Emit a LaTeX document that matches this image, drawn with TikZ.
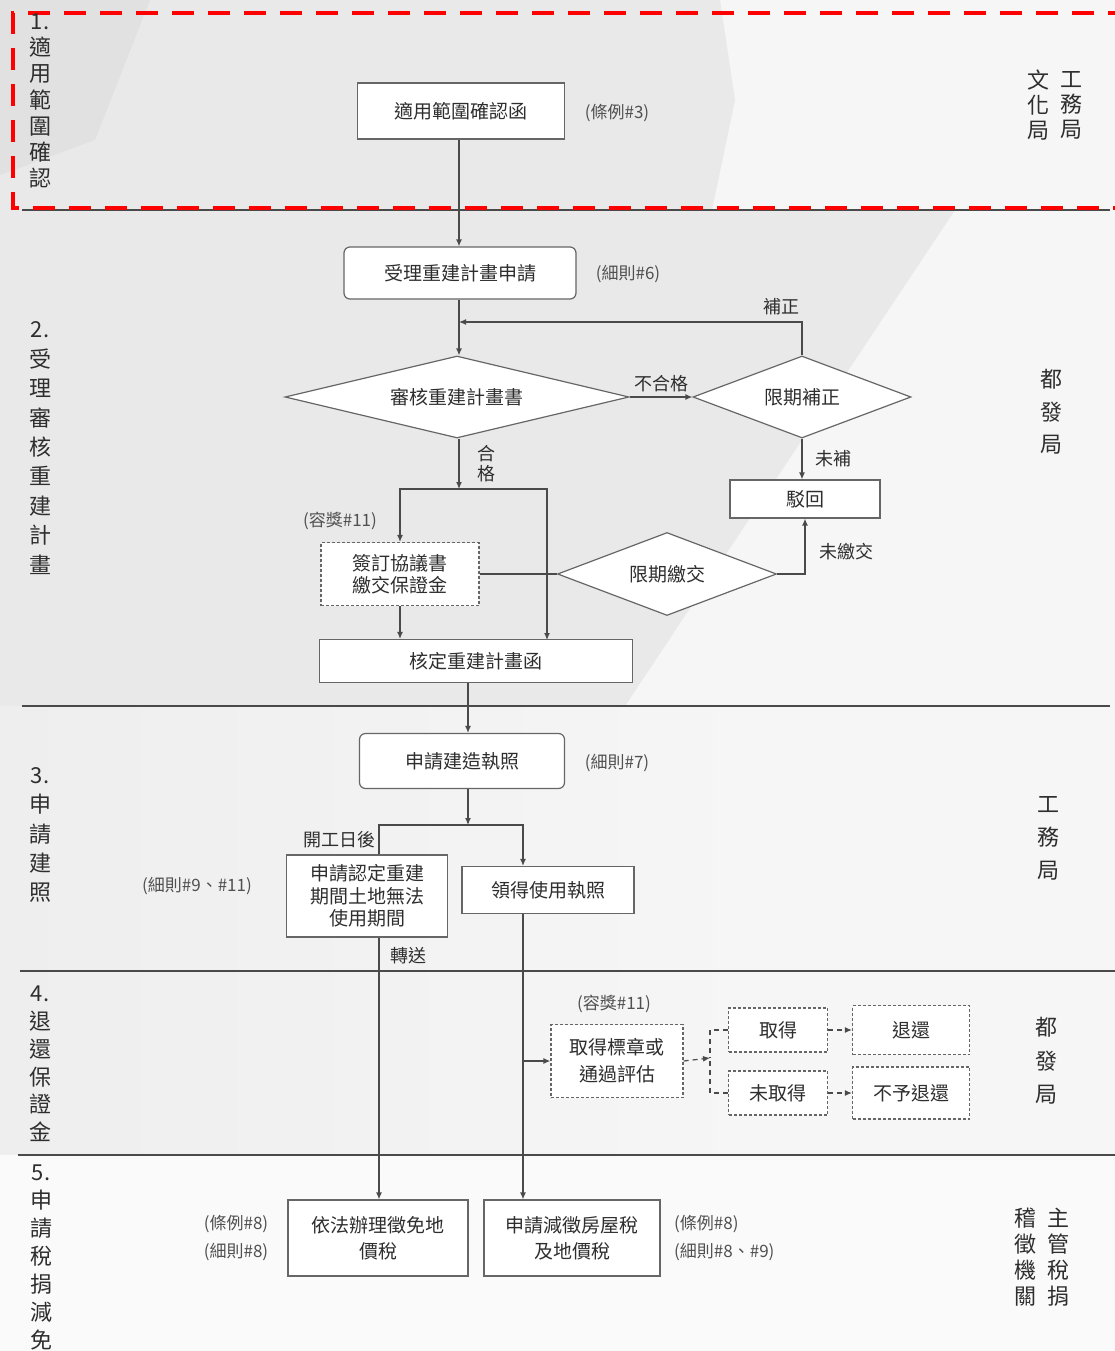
\documentclass[tikz,border=0pt]{standalone}
\usepackage{fontspec}
\setmainfont{Noto Sans CJK TC}
\usetikzlibrary{shapes.geometric,arrows.meta}
\definecolor{txt}{HTML}{2E2E2E}
\definecolor{notec}{HTML}{505050}
\definecolor{linec}{HTML}{4A4A4A}
\definecolor{boxc}{HTML}{666666}
\definecolor{sepc}{HTML}{4A4A4A}
\definecolor{bgA}{HTML}{F6F6F6}
\definecolor{bgB}{HTML}{E9E9E9}
\definecolor{bgC}{HTML}{E1E1E1}
\definecolor{bgD}{HTML}{EEEEEE}
\definecolor{bgE}{HTML}{FAFAFA}
\begin{document}
\begin{tikzpicture}[x=1pt,y=-1pt,
  box/.style={draw=boxc, fill=white, line width=1.2pt, inner sep=0pt, text=txt, align=center,
    font=\fontsize{19}{23}\selectfont},
  rbox/.style={box, rounded corners=6pt},
  dbox/.style={box, dash pattern=on 3pt off 2pt},
  dia/.style={box, diamond},
  note/.style={font=\fontsize{17}{28}\selectfont, text=notec, inner sep=0pt},
  lbl/.style={font=\fontsize{18}{21}\selectfont, text=txt, inner sep=0pt},
  vlab/.style={text=txt, align=center, inner sep=0pt},
  ln/.style={draw=linec, line width=1.2pt},
  arr/.style={ln, -{Latex[length=7pt,width=6pt]}},
  dln/.style={ln, dash pattern=on 5pt off 4pt},
  darr/.style={dln, -{Latex[length=7pt,width=6pt]}},
  sep/.style={draw=sepc, line width=2pt},
  reddash/.style={draw=red, line width=4.5pt, dash pattern=on 22pt off 14pt}]
\useasboundingbox (0,0) rectangle (1115,1351);
% background
\fill[bgA] (0,0) rectangle (1115,1351);
\fill[bgB] (0,0) -- (720,0) -- (735,100) -- (712,210) -- (955,210) -- (625,706) -- (0,706) -- cycle;
\fill[bgC] (0,0) -- (150,0) -- (95,140) -- (0,175) -- cycle;
\fill[left color=bgD, right color=bgA] (0,706) rectangle (760,1155);
\fill[bgE] (0,1155) rectangle (1115,1351);
% separators
\draw[sep] (22,210) -- (1110,210);
\draw[sep] (22,706) -- (1110,706);
\draw[sep] (20,971) -- (1115,971);
\draw[sep] (18,1155) -- (1115,1155);
\draw[reddash] (1130,13) -- (13,13) -- (13,208) -- (1130,208);
% left stage labels
\node[vlab, font=\fontsize{22}{26.3}\selectfont] (s1) at (40,101) {1.\\適\\用\\範\\圍\\確\\認};
\node[vlab, font=\fontsize{22}{29.4}\selectfont] (s2) at (40,448) {2.\\受\\理\\審\\核\\重\\建\\計\\畫};
\node[vlab, font=\fontsize{22}{29.3}\selectfont] (s3) at (40,835) {3.\\申\\請\\建\\照};
\node[vlab, font=\fontsize{22}{27.8}\selectfont] (s4) at (40,1064) {4.\\退\\還\\保\\證\\金};
\node[vlab, font=\fontsize{22}{28}\selectfont] (s5) at (41,1257) {5.\\申\\請\\稅\\捐\\減\\免};
% right agency labels
\node[vlab, font=\fontsize{22}{25}\selectfont] (r1a) at (1071,105) {工\\務\\局};
\node[vlab, font=\fontsize{22}{25}\selectfont] (r1b) at (1038,105) {文\\化\\局};
\node[vlab, font=\fontsize{22}{32.5}\selectfont] (r2) at (1051,412) {都\\發\\局};
\node[vlab, font=\fontsize{22}{33}\selectfont] (r3) at (1048,838) {工\\務\\局};
\node[vlab, font=\fontsize{22}{33.5}\selectfont] (r4) at (1046,1061) {都\\發\\局};
\node[vlab, font=\fontsize{22}{26}\selectfont] (r5a) at (1058,1257) {主\\管\\稅\\捐};
\node[vlab, font=\fontsize{22}{26}\selectfont] (r5b) at (1025,1257) {稽\\徵\\機\\關};
% nodes
\node[box, minimum width=207pt, minimum height=56pt] (rng) at (461,111) {適用範圍確認函};
\node[note] (n1) at (617,113) {(條例\#3)};
\node[rbox, minimum width=232pt, minimum height=52pt] (acc) at (460,273) {受理重建計畫申請};
\node[note] (n2) at (628,274) {(細則\#6)};
\node[dia, minimum width=344pt, minimum height=82pt, shape aspect=4.2] (rev) at (457,397) {審核重建計畫書};
\node[dia, minimum width=218pt, minimum height=82pt, shape aspect=2.66] (fix) at (802,397) {限期補正};
\node[box, minimum width=150pt, minimum height=38pt] (rej) at (805,499) {駁回};
\node[note] (n3) at (340,521) {(容獎\#11)};
\node[dbox, minimum width=158pt, minimum height=63pt, font=\fontsize{19}{22}\selectfont] (sign) at (400,574) {簽訂協議書\\繳交保證金};
\node[dia, minimum width=219pt, minimum height=83pt, shape aspect=2.64] (pay) at (667,574) {限期繳交};
\node[box, minimum width=313pt, minimum height=43pt] (apr) at (476,661) {核定重建計畫函};
\node[rbox, minimum width=205pt, minimum height=55pt] (bp) at (462,761) {申請建造執照};
\node[note] (n4) at (617,763) {(細則\#7)};
\node[box, minimum width=161pt, minimum height=82pt, font=\fontsize{19}{22.5}\selectfont] (land) at (367,896) {申請認定重建\\期間土地無法\\使用期間};
\node[note] (n5) at (197,886) {(細則\#9、\#11)};
\node[box, minimum width=172pt, minimum height=47pt] (use) at (548,890) {領得使用執照};
\node[note] (n6) at (614,1004) {(容獎\#11)};
\node[dbox, minimum width=132pt, minimum height=73pt, font=\fontsize{19}{27}\selectfont] (eval) at (617,1061) {取得標章或\\通過評估};
\node[dbox, minimum width=99pt, minimum height=44pt] (get) at (778,1030) {取得};
\node[dbox, minimum width=99pt, minimum height=44pt] (nget) at (778,1093) {未取得};
\node[dbox, minimum width=117pt, minimum height=49pt] (ret) at (911,1030) {退還};
\node[dbox, minimum width=117pt, minimum height=52pt] (nret) at (911,1093) {不予退還};
\node[box, minimum width=180pt, minimum height=76pt, font=\fontsize{19}{26}\selectfont] (t1) at (378,1238) {依法辦理徵免地\\價稅};
\node[box, minimum width=176pt, minimum height=76pt, font=\fontsize{19}{26}\selectfont] (t2) at (572,1238) {申請減徵房屋稅\\及地價稅};
\node[note, align=center] (n7) at (236,1238) {(條例\#8)\\(細則\#8)};
\node[note, align=left, anchor=west] (n8) at (674,1238) {(條例\#8)\\(細則\#8、\#9)};
% coordinates
\coordinate (j1) at (459,322);
\coordinate (j2) at (459,489);
\coordinate (ap2) at (547,640);
\coordinate (xa) at (468,0);
\coordinate (j3) at (468,825);
\coordinate (lx) at (379,0);
\coordinate (ux) at (523,0);
\coordinate (j4) at (710,1058);
% connectors
\draw[arr] (rng.south -| j1) -- (acc.north -| j1);
\draw[arr] (acc.south -| j1) -- (rev.north -| j1);
\draw[arr] (fix.north) |- node[lbl, pos=0.53, above=6pt] {補正} (j1);
\draw[arr] (rev.east) -- node[lbl, above=4pt] {不合格} (fix.west);
\draw[arr] (fix.south) -- node[lbl, right=13pt] {未補} (fix.south |- rej.north);
\draw[arr] (rev.south -| j2) -- node[vlab, right=18pt, font=\fontsize{18}{20}\selectfont] {合\\格} (j2);
\draw[arr] (j2) -| (sign.north);
\draw[arr] (j2) -| (ap2);
\draw[ln] (sign.east) -- (pay.west);
\draw[arr] (pay.east) -| node[lbl, pos=0.7, right=14pt] {未繳交} (rej.south);
\draw[arr] (sign.south) -- (sign.south |- apr.north);
\draw[arr] (apr.south -| xa) -- (bp.north -| xa);
\draw[arr] (bp.south -| xa) -- (j3);
\draw[ln] (j3) -| node[lbl, pos=0.75, left=3pt] {開工日後} (land.north -| lx);
\draw[arr] (j3) -| (use.north -| ux);
\draw[arr] (land.south -| lx) -- (t1.north -| lx);
\node[lbl] (zs) at (408,956) {轉送};
\draw[arr] (use.south -| ux) -- (t2.north -| ux);
\draw[arr] (eval.west -| ux) -- (eval.west);
\draw[darr] (eval.east) -- (j4);
\draw[dln] (get.west) -| (j4);
\draw[dln] (nget.west) -| (j4);
\draw[darr] (get.east) -- (ret.west);
\draw[darr] (nget.east) -- (nret.west);
\end{tikzpicture}
\end{document}
